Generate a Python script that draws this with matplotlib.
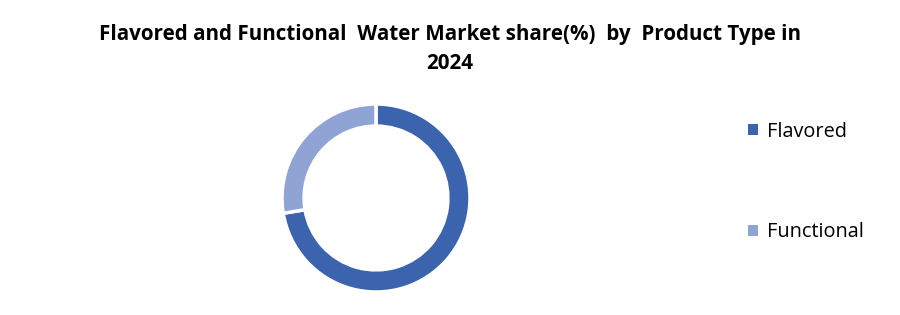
import matplotlib
matplotlib.use("Agg")
import matplotlib.pyplot as plt
from matplotlib.patches import Patch

# ---------------- DATA ----------------
labels = ["Flavored", "Functional"]
shares = [72.4, 27.6]
colors = ["#3C64AE", "#8FA4D4"]
title = "Flavored and Functional  Water Market share(%)  by  Product Type in\n2024"
# --------------------------------------

fig = plt.figure(figsize=(9, 3.15), dpi=100)
fig.patch.set_facecolor("white")

fig.text(0.5, 1 - 49 / 315, title, ha="center", va="center", fontsize=14.9,
         fontweight="bold", family="Open Sans", linespacing=1.5)

ax = fig.add_axes([282 / 900, 23 / 315, 188 / 900, 188 / 315])
ax.pie(shares, colors=colors, startangle=90, counterclock=False, radius=1.0,
       wedgeprops=dict(width=0.235, edgecolor="white", linewidth=2.5))
ax.set_xlim(-1, 1)
ax.set_ylim(-1, 1)
ax.set_aspect("equal")
ax.axis("off")

handles = [Patch(facecolor=c, edgecolor="none") for c in colors]
fig.legend(handles, labels, loc="upper left", bbox_to_anchor=(730 / 900, 1 - 104 / 315),
           frameon=False, handlelength=0.5, handleheight=0.5,
           handletextpad=0.45, labelspacing=4.05,
           prop={"family": "Open Sans", "size": 14.3})

fig.savefig("out.png", dpi=100)
